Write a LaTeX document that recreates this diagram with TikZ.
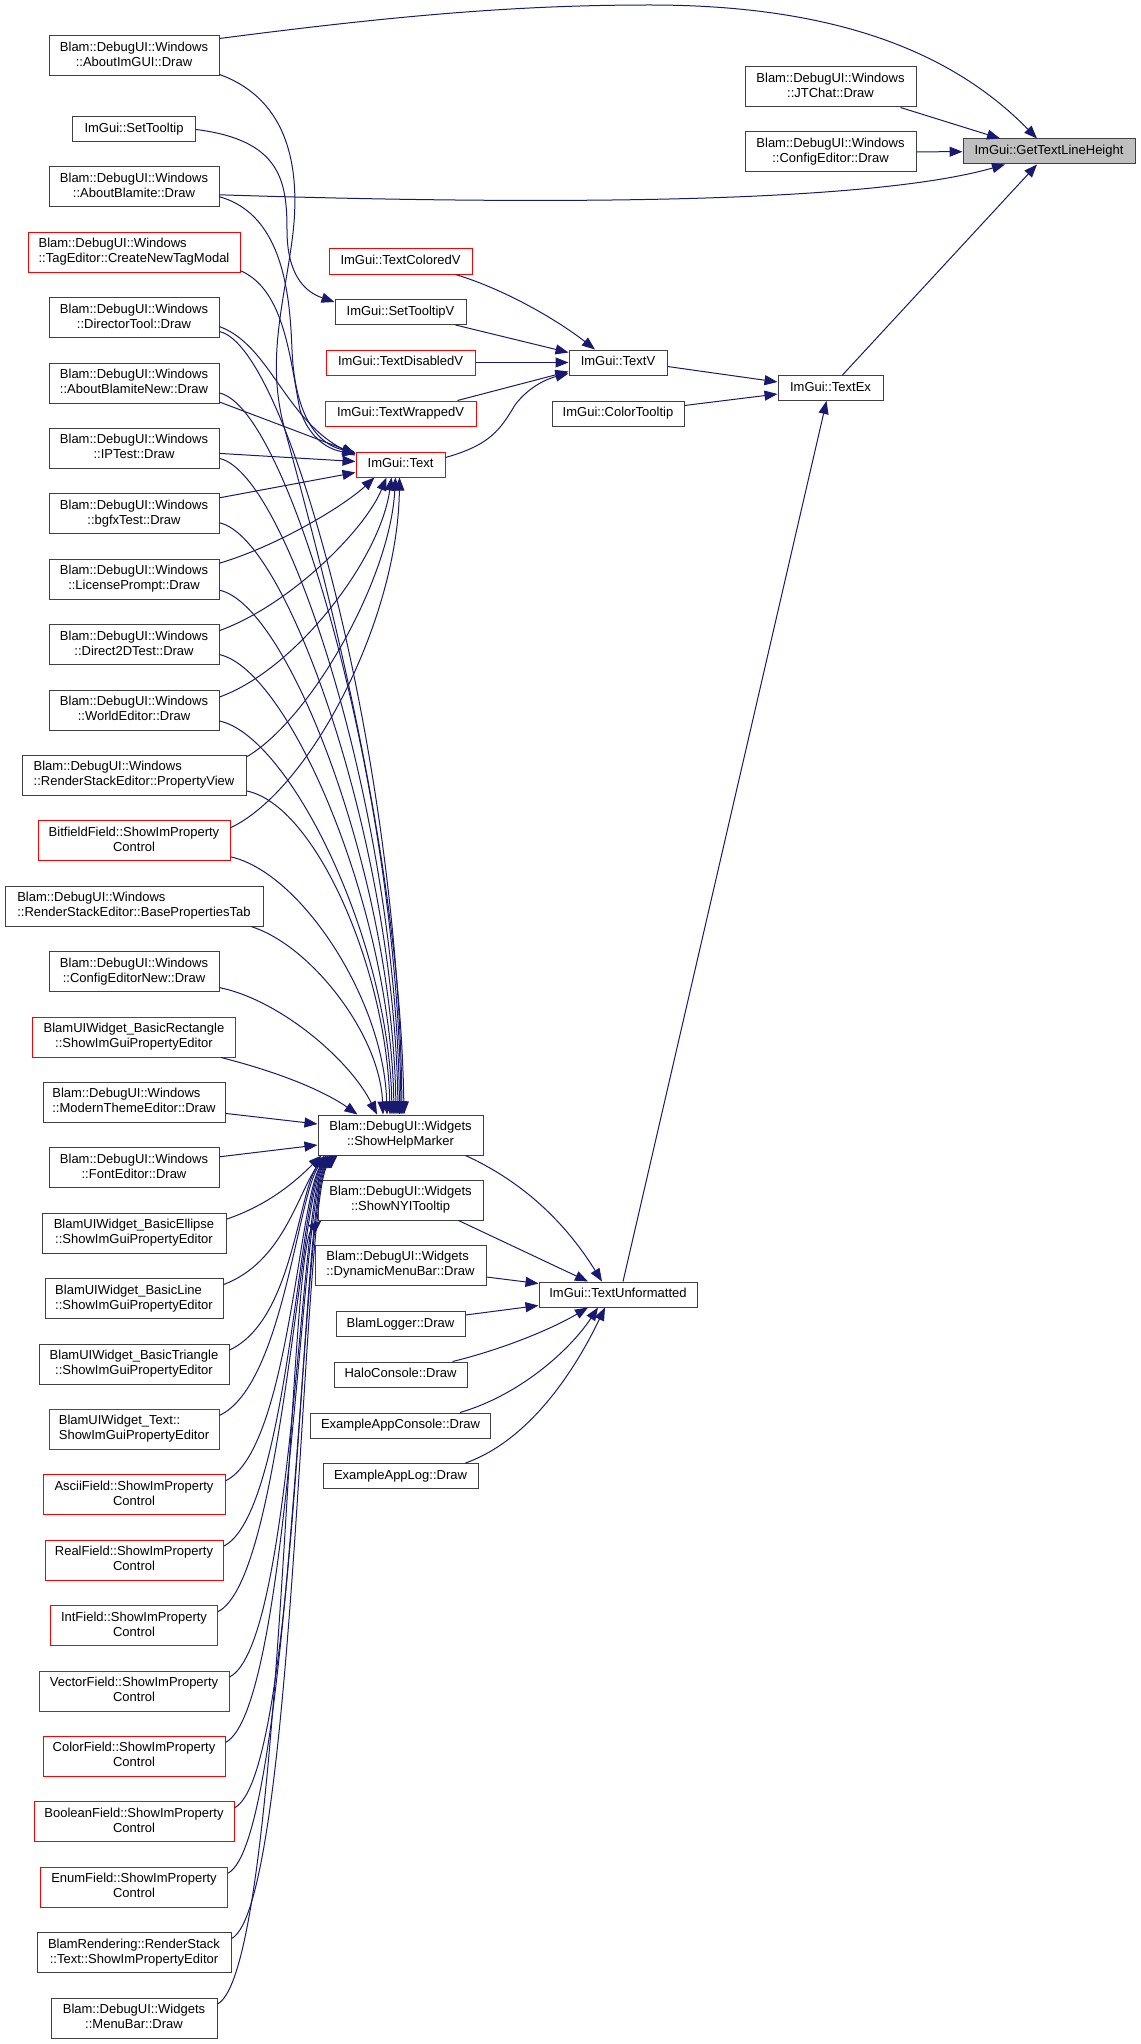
\documentclass[tikz,border=0pt]{standalone}
\usepackage{fontspec}
\setmainfont{Liberation Sans}
\usetikzlibrary{arrows.meta,calc}
\definecolor{edgeblue}{RGB}{25,25,112}
\definecolor{boxgray}{RGB}{64,64,64}
\definecolor{fillgray}{RGB}{191,191,191}
\newcommand\nodefont{\fontsize{9.75pt}{11.25pt}\selectfont}
\newcommand\twol[2]{\begin{tabular}{@{}l@{}}#1\\\multicolumn{1}{@{}c@{}}{#2}\end{tabular}}
\newcommand\onel[1]{\begin{tabular}{@{}c@{}}#1\end{tabular}}
\tikzset{
  box/.style={draw=boxgray, fill=white, line width=0.75pt, inner sep=0pt, minimum height=30pt, font=\nodefont},
  rbox/.style={box, draw=red},
  sbox/.style={box, minimum height=18.75pt},
  srbox/.style={sbox, draw=red},
  conn/.style={draw=edgeblue, line width=0.75pt, -{Triangle[length=9.75pt,width=7.5pt]}},
}
\begin{document}
\begin{tikzpicture}[x=0.75pt,y=-0.75pt]
\fill[white] (0,0) rectangle (1140,2044);
\useasboundingbox (0,0) rectangle (1140,2044);

% ---------- left column ----------
\node[box, minimum width=127.5pt] (AI) at (134,56) {\twol{Blam::DebugUI::Windows}{::AboutImGUI::Draw}};
\node[sbox, minimum width=92.25pt] (ST) at (134,129.5) {\onel{ImGui::SetTooltip}};
\node[box, minimum width=127.5pt] (AB) at (134,186.8) {\twol{Blam::DebugUI::Windows}{::AboutBlamite::Draw}};
\node[rbox, minimum width=159pt] (TagE) at (134,252.2) {\twol{Blam::DebugUI::Windows}{::TagEditor::CreateNewTagModal}};
\node[box, minimum width=127.5pt] (DT) at (134,317.6) {\twol{Blam::DebugUI::Windows}{::DirectorTool::Draw}};
\node[box, minimum width=127.5pt] (ABN) at (134,383) {\twol{Blam::DebugUI::Windows}{::AboutBlamiteNew::Draw}};
\node[box, minimum width=127.5pt] (IPT) at (134,448.4) {\twol{Blam::DebugUI::Windows}{::IPTest::Draw}};
\node[box, minimum width=127.5pt] (BGFX) at (134,513.8) {\twol{Blam::DebugUI::Windows}{::bgfxTest::Draw}};
\node[box, minimum width=127.5pt] (LIC) at (134,579.2) {\twol{Blam::DebugUI::Windows}{::LicensePrompt::Draw}};
\node[box, minimum width=127.5pt] (D2D) at (134,644.6) {\twol{Blam::DebugUI::Windows}{::Direct2DTest::Draw}};
\node[box, minimum width=127.5pt] (WE) at (134,710) {\twol{Blam::DebugUI::Windows}{::WorldEditor::Draw}};
\node[box, minimum width=168pt] (PV) at (134,775.4) {\twol{Blam::DebugUI::Windows}{::RenderStackEditor::PropertyView}};
\node[rbox, minimum width=144pt] (BF) at (134,840.8) {\twol{BitfieldField::ShowImProperty}{Control}};
\node[box, minimum width=193.5pt] (BPT) at (134,906.2) {\twol{Blam::DebugUI::Windows}{::RenderStackEditor::BasePropertiesTab}};
\node[box, minimum width=127.5pt] (CEN) at (134,971.6) {\twol{Blam::DebugUI::Windows}{::ConfigEditorNew::Draw}};
\node[rbox, minimum width=152.25pt] (BR) at (134,1037) {\twol{BlamUIWidget\_BasicRectangle}{::ShowImGuiPropertyEditor}};
\node[box, minimum width=136.5pt] (MTE) at (134,1102.4) {\twol{Blam::DebugUI::Windows}{::ModernThemeEditor::Draw}};
\node[box, minimum width=127.5pt] (FE) at (134,1167.8) {\twol{Blam::DebugUI::Windows}{::FontEditor::Draw}};
\node[box, minimum width=138pt] (BE) at (134,1233.2) {\twol{BlamUIWidget\_BasicEllipse}{::ShowImGuiPropertyEditor}};
\node[box, minimum width=133.5pt] (BL) at (134,1298.6) {\twol{BlamUIWidget\_BasicLine}{::ShowImGuiPropertyEditor}};
\node[box, minimum width=142.5pt] (BTR) at (134,1364) {\twol{BlamUIWidget\_BasicTriangle}{::ShowImGuiPropertyEditor}};
\node[rbox, minimum width=127.5pt] (WT) at (134,1429.4) {\twol{BlamUIWidget\_Text::}{ShowImGuiPropertyEditor}};
\node[rbox, minimum width=136.5pt] (ASC) at (134,1494.8) {\twol{AsciiField::ShowImProperty}{Control}};
\node[rbox, minimum width=133.5pt] (REAL) at (134,1560.2) {\twol{RealField::ShowImProperty}{Control}};
\node[rbox, minimum width=125.25pt] (INT) at (134,1625.6) {\twol{IntField::ShowImProperty}{Control}};
\node[rbox, minimum width=142.5pt] (VEC) at (134,1691) {\twol{VectorField::ShowImProperty}{Control}};
\node[rbox, minimum width=136.5pt] (COL) at (134,1756.4) {\twol{ColorField::ShowImProperty}{Control}};
\node[rbox, minimum width=150pt] (BOOL) at (134,1821.8) {\twol{BooleanField::ShowImProperty}{Control}};
\node[rbox, minimum width=140.25pt] (ENUM) at (134,1887.2) {\twol{EnumField::ShowImProperty}{Control}};
\node[box, minimum width=145.5pt] (RST) at (134,1952.6) {\twol{BlamRendering::RenderStack}{::Text::ShowImPropertyEditor}};
\node[box, minimum width=124.5pt] (MB) at (134,2018) {\twol{Blam::DebugUI::Widgets}{::MenuBar::Draw}};

% ---------- middle column ----------
\node[srbox, minimum width=107.25pt] (TCV) at (400.5,261.5) {\onel{ImGui::TextColoredV}};
\node[sbox, minimum width=98.25pt] (STV) at (400.5,312) {\onel{ImGui::SetTooltipV}};
\node[srbox, minimum width=111.75pt] (TDV) at (400.5,362.5) {\onel{ImGui::TextDisabledV}};
\node[srbox, minimum width=113.25pt] (TWV) at (400.5,413.5) {\onel{ImGui::TextWrappedV}};
\node[srbox, minimum width=66.75pt] (TXT) at (400.5,464.5) {\onel{ImGui::Text}};
\node[box, minimum width=123.75pt] (SHM) at (400.5,1135) {\twol{Blam::DebugUI::Widgets}{::ShowHelpMarker}};
\node[box, minimum width=123.75pt] (NYI) at (400.5,1200) {\twol{Blam::DebugUI::Widgets}{::ShowNYITooltip}};
\node[box, minimum width=128.25pt] (DMB) at (400.5,1265) {\twol{Blam::DebugUI::Widgets}{::DynamicMenuBar::Draw}};
\node[sbox, minimum width=96.75pt] (BLOG) at (400.5,1324) {\onel{BlamLogger::Draw}};
\node[sbox, minimum width=99.75pt] (HALO) at (400.5,1374.5) {\onel{HaloConsole::Draw}};
\node[sbox, minimum width=135pt] (EAC) at (400.5,1425.5) {\onel{ExampleAppConsole::Draw}};
\node[sbox, minimum width=116.25pt] (EAL) at (400.5,1476) {\onel{ExampleAppLog::Draw}};

% ---------- right part ----------
\node[sbox, minimum width=73.5pt] (TV) at (618,362.5) {\onel{ImGui::TextV}};
\node[sbox, minimum width=99pt] (CT) at (618,413.5) {\onel{ImGui::ColorTooltip}};
\node[sbox, minimum width=118.5pt] (TU) at (618,1294.5) {\onel{ImGui::TextUnformatted}};
\node[sbox, minimum width=78.75pt] (TEX) at (830.5,388) {\onel{ImGui::TextEx}};
\node[box, minimum width=128.25pt] (JT) at (830.5,87) {\twol{Blam::DebugUI::Windows}{::JTChat::Draw}};
\node[box, minimum width=128.25pt] (CE) at (830.5,152) {\twol{Blam::DebugUI::Windows}{::ConfigEditor::Draw}};
\node[sbox, fill=fillgray, minimum width=129pt] (G) at (1049,151.5) {\onel{ImGui::GetTextLineHeight}};

% ---------- edges into GetTextLineHeight ----------
\draw[conn] ($(AI.north east)+(0,3)$) .. controls (400,15) and (520,5) .. (650,5) .. controls (850,5) and (960,60) .. ($(G.north)+(-12,0)$);
\draw[conn] ($(AB.east)+(0,8)$) .. controls (600,207) and (880,200) .. ($(G.south)+(-44,0)$);
\draw[conn] ($(JT.south east)+(-16,0)$) -- ($(G.north)+(-49,0)$);
\draw[conn] (CE) -- (G);
\draw[conn] ($(TEX.north)+(12,0)$) -- ($(G.south)+(-12,0)$);

% ---------- into TextEx ----------
\draw[conn] ($(TV.east)+(0,4)$) -- ($(TEX.west)+(0,-6)$);
\draw[conn] ($(CT.east)+(0,-8)$) -- ($(TEX.west)+(0,6)$);
\draw[conn] ($(TU.north)+(5,0)$) -- ($(TEX.south)+(-4,0)$);

% ---------- into TextV ----------
\draw[conn] ($(TCV.south)+(55,0)$) .. controls (507,290) and (560,322) .. ($(TV.north)+(-23,0)$);
\draw[conn] ($(STV.south)+(55,0)$) -- ($(TV.west)+(0,-10)$);
\draw[conn] (TDV) -- (TV);
\draw[conn] ($(TWV.north)+(57,0)$) -- ($(TV.west)+(0,9)$);
\draw[conn] ($(TXT.east)+(0,-7)$) .. controls (490,445) and (500,430) .. (515,405) .. controls (530,385) and (550,378) .. ($(TV.west)+(0,11)$);

% ---------- SetTooltip -> SetTooltipV ----------
\draw[conn] (ST.east) .. controls (280,140) and (287,180) .. (287,230) .. controls (287,275) and (305,292) .. ($(STV.north west)+(0,3)$);

% ---------- into ImGui::Text ----------
\draw[conn] ($(AB.east)+(0,10)$) .. controls (285,215) and (290,300) .. (292,350) .. controls (295,420) and (320,445) .. ($(TXT.north west)+(0,1)$);
\draw[conn] ($(TagE.south east)+(0,-2)$) .. controls (285,290) and (290,360) .. (300,410) .. controls (310,440) and (330,450) .. ($(TXT.north west)+(0,2)$);
\draw[conn] ($(DT.east)+(0,9)$) .. controls (270,345) and (285,420) .. ($(TXT.west)+(0,-9)$);
\draw[conn] ($(ABN.east)+(0,19)$) -- ($(TXT.west)+(0,-11)$);
\draw[conn] ($(IPT.east)+(0,5)$) -- ($(TXT.west)+(0,-3)$);
\draw[conn] ($(BGFX.east)+(0,-16)$) -- ($(TXT.west)+(0,8)$);
\draw[conn] ($(LIC.east)+(0,-16)$) .. controls (280,545) and (345,505) .. ($(TXT.south)+(-26,0)$);
\draw[conn] ($(D2D.east)+(0,-14)$) .. controls (290,605) and (365,530) .. ($(TXT.south)+(-14,0)$);
\draw[conn] ($(WE.east)+(0,-13)$) .. controls (295,670) and (380,560) .. ($(TXT.south)+(-9,0)$);
\draw[conn] ($(PV.north east)+(0,2)$) .. controls (310,720) and (390,580) .. ($(TXT.south)+(-5,0)$);
\draw[conn] ($(BF.east)+(0,-13)$) .. controls (310,790) and (398,620) .. ($(TXT.south)+(-1,0)$);

% ---------- down into ShowHelpMarker (top) ----------
\draw[conn] ($(AI.south east)+(0,-2)$) .. controls (290,100) and (300,170) .. (293,233) .. controls (285,300) and (265,360) .. (285,430) .. controls (320,560) and (400,850) .. ($(SHM.north)+(3.5,0)$);
\draw[conn] ($(DT.east)+(0,14)$) .. controls (289,346) and (399,762) .. ($(SHM.north)+(1.5,0)$);
\draw[conn] ($(ABN.east)+(0,10)$) .. controls (289,408) and (398,790) .. ($(SHM.north)+(0.5,0)$);
\draw[conn] ($(IPT.east)+(0,10)$) .. controls (289,474) and (397,820) .. ($(SHM.north)+(-1,0)$);
\draw[conn] ($(BGFX.east)+(0,9)$) .. controls (289,538) and (395,849) .. ($(SHM.north)+(-2.5,0)$);
\draw[conn] ($(LIC.east)+(0,11)$) .. controls (289,605) and (393,879) .. ($(SHM.north)+(-4.5,0)$);
\draw[conn] ($(D2D.east)+(0,10)$) .. controls (289,670) and (391,908) .. ($(SHM.north)+(-6.5,0)$);
\draw[conn] ($(WE.east)+(0,11)$) .. controls (289,736) and (389,938) .. ($(SHM.north)+(-8.5,0)$);
\draw[conn] ($(PV.south east)+(0,-5)$) .. controls (316,805) and (387,971) .. ($(SHM.north)+(-10.5,0)$);
\draw[conn] ($(BF.east)+(0,16)$) .. controls (300,872) and (384,999) .. ($(SHM.north)+(-13.5,0)$);
\draw[conn] ($(BPT.south east)+(-12,0)$) .. controls (310,945) and (380,1034) .. ($(SHM.north)+(-17.5,0)$);
\draw[conn] ($(CEN.east)+(0,16)$) .. controls (280,1000) and (350,1060) .. ($(SHM.north)+(-23.5,0)$);
\draw[conn] ($(BR.south east)+(-15,0)$) .. controls (290,1075) and (330,1095) .. ($(SHM.north west)+(40,0)$);
\draw[conn] ($(MTE.east)+(0,11)$) -- ($(SHM.west)+(0,-11)$);
\draw[conn] ($(FE.east)+(0,-11)$) -- ($(SHM.west)+(0,10)$);

% ---------- up into ShowHelpMarker (bottom) ----------
\draw[conn] ($(BE.east)+(0,-14)$) .. controls (268,1205) and (295,1182) .. ($(SHM.south west)+(4,0)$);
\draw[conn] ($(BL.east)+(0,-14)$) .. controls (283,1262) and (297,1195) .. ($(SHM.south west)+(7,0)$);
\draw[conn] ($(BTR.east)+(0,-14)$) .. controls (294,1320) and (298,1188) .. ($(SHM.south west)+(9,0)$);
\draw[conn] ($(WT.east)+(0,-14)$) .. controls (284,1385) and (298,1188) .. ($(SHM.south west)+(11,0)$);
\draw[conn] ($(ASC.east)+(0,-14)$) .. controls (290,1450) and (299,1188) .. ($(SHM.south west)+(13,0)$);
\draw[conn] ($(REAL.east)+(0,-14)$) .. controls (288,1515) and (299,1188) .. ($(SHM.south west)+(14,0)$);
\draw[conn] ($(INT.east)+(0,-14)$) .. controls (282,1580) and (300,1188) .. ($(SHM.south west)+(15,0)$);
\draw[conn] ($(VEC.east)+(0,-14)$) .. controls (294,1645) and (300,1188) .. ($(SHM.south west)+(16,0)$);
\draw[conn] ($(COL.east)+(0,-14)$) .. controls (290,1710) and (301,1188) .. ($(SHM.south west)+(17,0)$);
\draw[conn] ($(BOOL.east)+(0,-14)$) .. controls (299,1775) and (301,1188) .. ($(SHM.south west)+(18,0)$);
\draw[conn] ($(ENUM.east)+(0,-14)$) .. controls (292,1840) and (302,1188) .. ($(SHM.south west)+(19,0)$);
\draw[conn] ($(RST.east)+(0,-14)$) .. controls (296,1905) and (302,1188) .. ($(SHM.south west)+(20,0)$);
\draw[conn] ($(MB.east)+(0,-14)$) .. controls (282,1970) and (288,1250) .. ($(NYI.south west)+(4,0)$);

% ---------- into TextUnformatted ----------
\draw[conn] ($(SHM.south east)+(-18,0)$) .. controls (530,1185) and (570,1230) .. ($(TU.north)+(-16,0)$);
\draw[conn] ($(NYI.south east)+(-25,0)$) -- ($(TU.north)+(-30,0)$);
\draw[conn] ($(DMB.east)+(0,12)$) -- ($(TU.west)+(0,-11)$);
\draw[conn] ($(BLOG.east)+(0,-9)$) -- ($(TU.west)+(0,11)$);
\draw[conn] ($(HALO.north east)+(-15,0)$) .. controls (500,1350) and (550,1330) .. ($(TU.south)+(-30,0)$);
\draw[conn] ($(EAC.north east)+(-31,0)$) .. controls (520,1395) and (570,1350) .. ($(TU.south)+(-20,0)$);
\draw[conn] ($(EAL.north east)+(-13,0)$) .. controls (530,1440) and (575,1370) .. ($(TU.south)+(-13,0)$);
\end{tikzpicture}
\end{document}
